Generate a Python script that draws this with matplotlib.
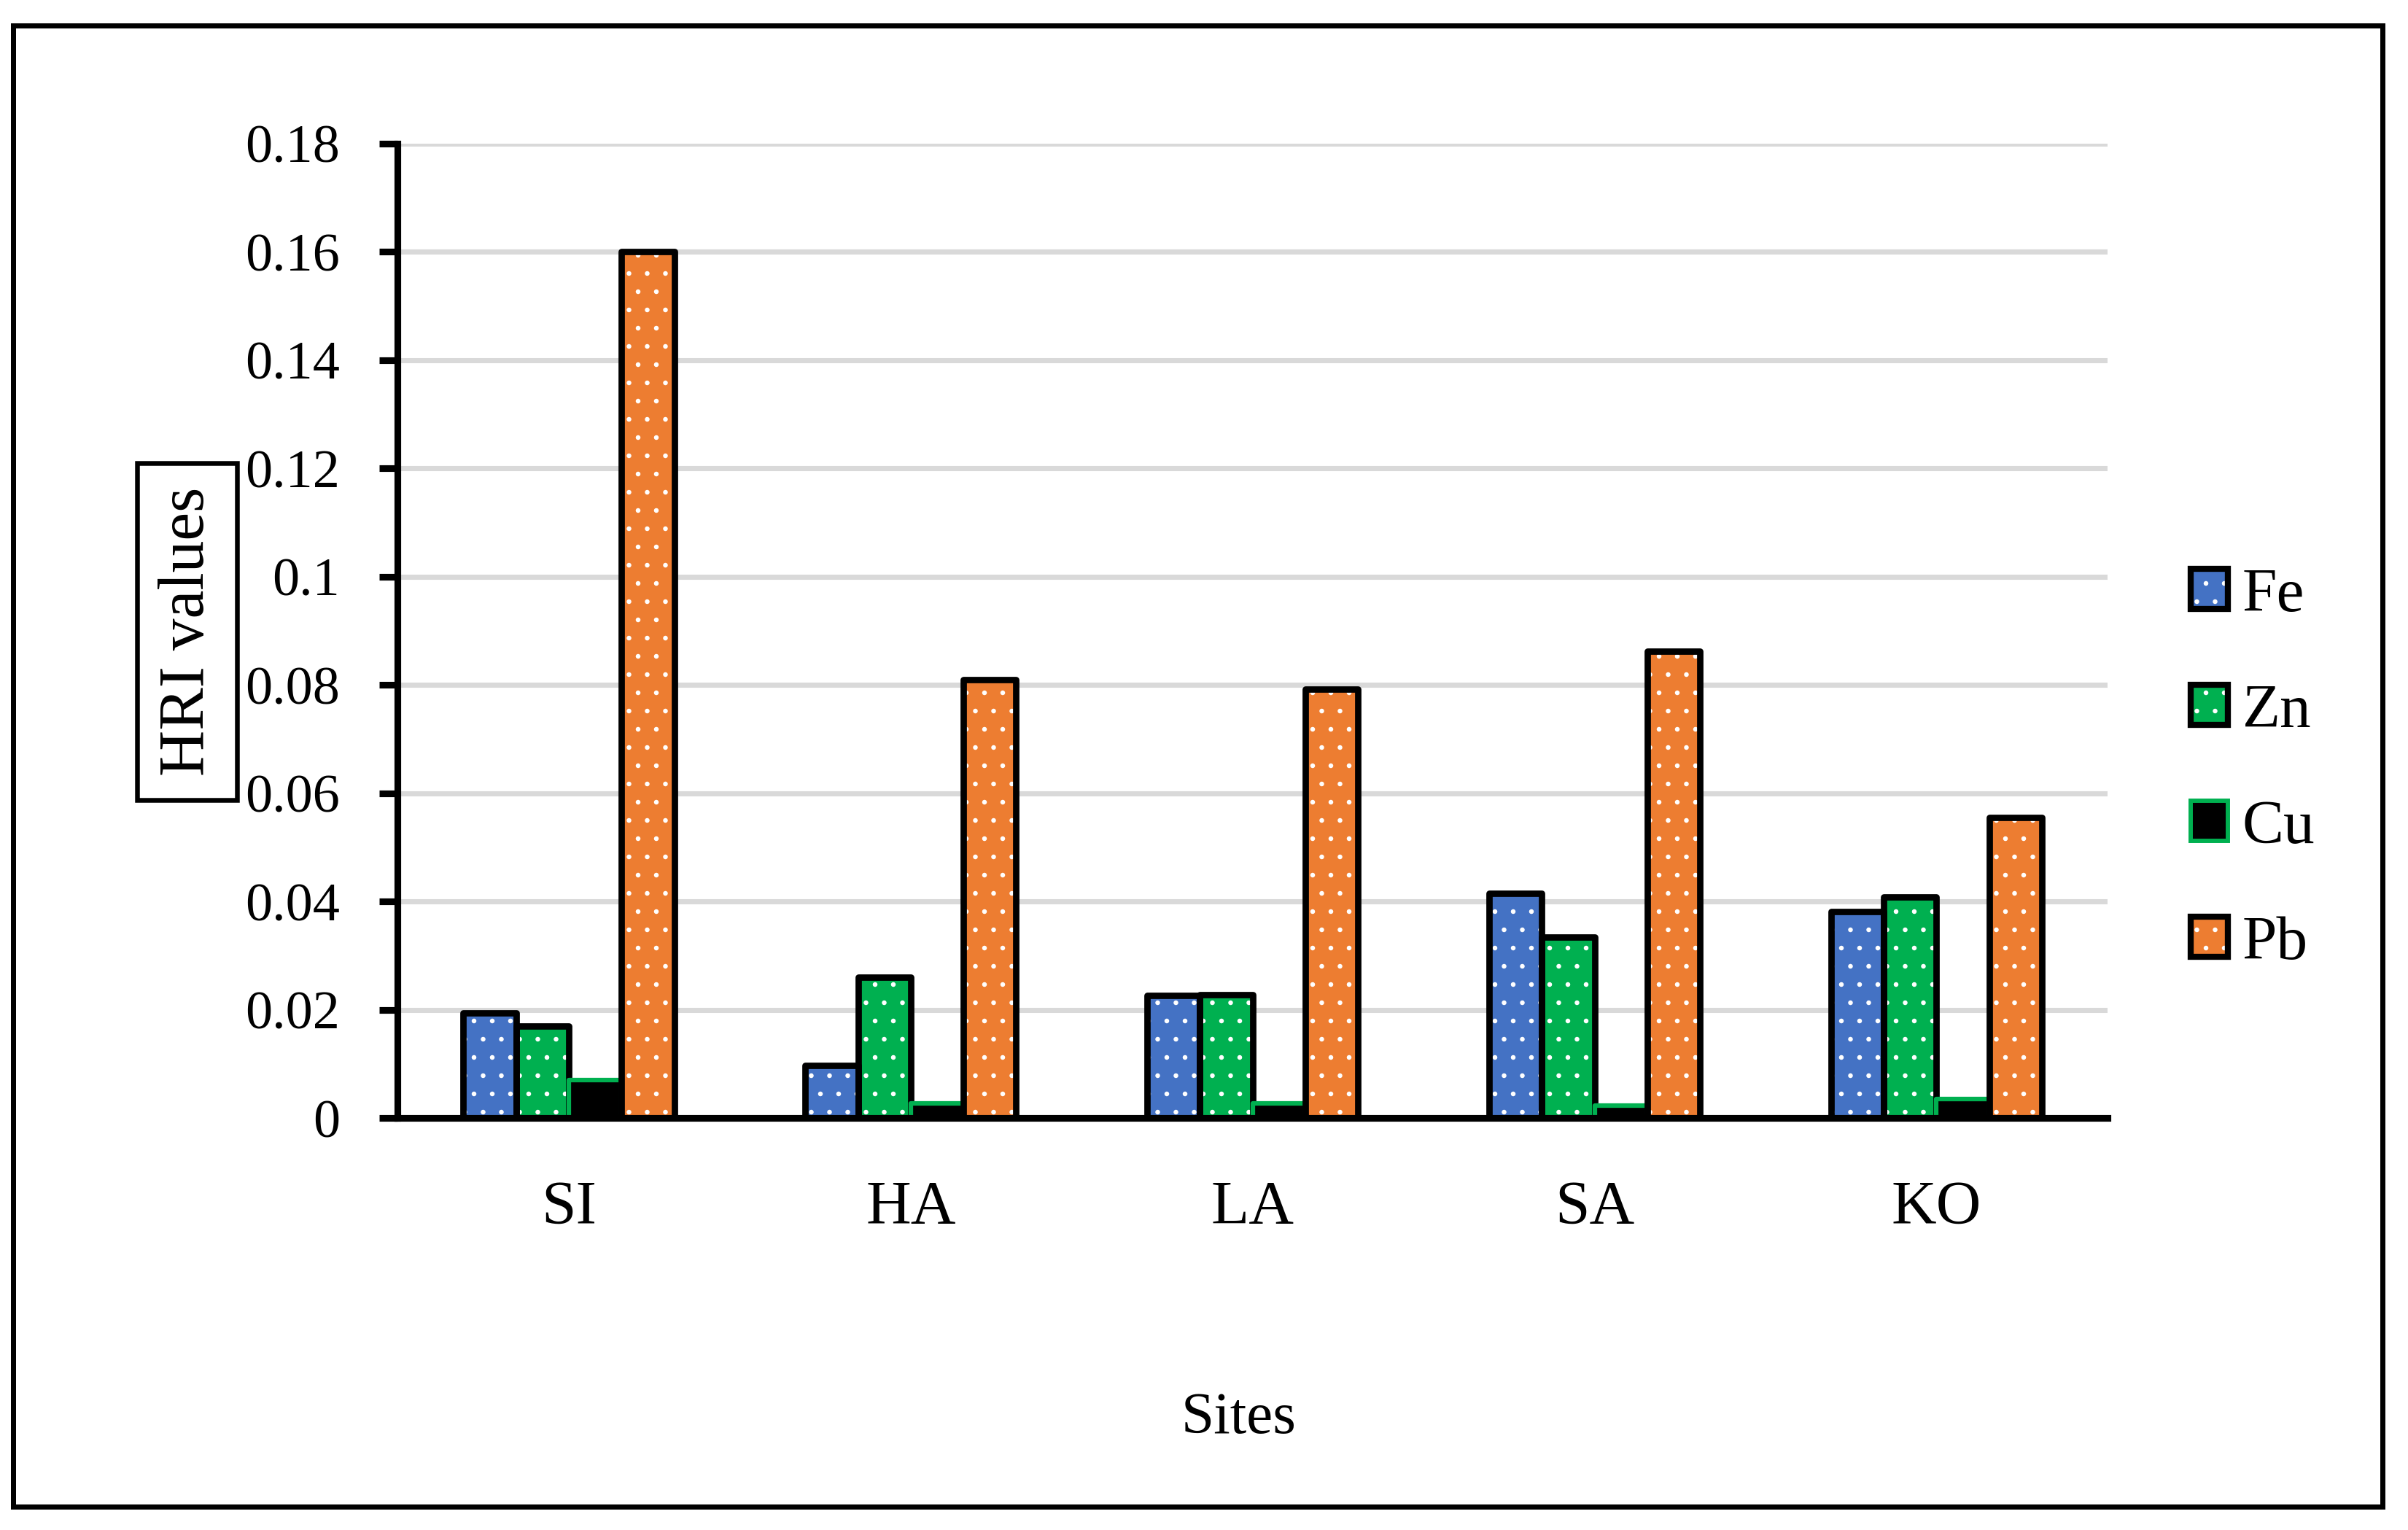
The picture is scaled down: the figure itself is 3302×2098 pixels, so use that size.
import matplotlib
matplotlib.use("Agg")
import matplotlib.pyplot as plt
from matplotlib.patches import Patch, Rectangle
import numpy as np

# data
sites = ["SI", "HA", "LA", "SA", "KO"]
metals = ["Fe", "Zn", "Cu", "Pb"]
fe = [0.0195, 0.0098, 0.0227, 0.0415, 0.0382]
zn = [0.0170, 0.0261, 0.0228, 0.0335, 0.0409]
cu = [0.0070, 0.0027, 0.0028, 0.0023, 0.0035]
pb = [0.1600, 0.0810, 0.0792, 0.0863, 0.0556]
yticks = [0, 0.02, 0.04, 0.06, 0.08, 0.1, 0.12, 0.14, 0.16, 0.18]
ytick_labels = ["0", "0.02", "0.04", "0.06", "0.08", "0.1", "0.12", "0.14", "0.16", "0.18"]

fills = ["#4472C4", "#00B050", "#000000", "#ED7D31"]
edges = ["#000000", "#000000", "#00B050", "#000000"]
edge_lw = [2.1, 2.1, 1.5, 2.1]
hatches = ["..", "..", None, ".."]

plt.rcParams["font.family"] = ["Liberation Serif", "DejaVu Serif"]
plt.rcParams["hatch.linewidth"] = 0.35

fig = plt.figure(figsize=(3302 / 300, 2098 / 300), dpi=300)
ax = fig.add_axes([0.1652, 0.2691, 0.8752 - 0.1652, 0.9061 - 0.2691])

x = np.arange(len(sites))
w = 0.1542
handles = []
for i, vals in enumerate([fe, zn, cu, pb]):
    pos = x + (i - 1.5) * w
    if hatches[i]:
        ax.bar(pos, vals, w, color=fills[i], edgecolor="white", hatch=hatches[i], lw=0, zorder=2)
        h1 = Patch(facecolor=fills[i], edgecolor="white", hatch=hatches[i], lw=0)
    else:
        ax.bar(pos, vals, w, color=fills[i], lw=0, zorder=2)
        h1 = Patch(facecolor=fills[i], lw=0)
    ax.bar(pos, vals, w, fill=False, edgecolor=edges[i], lw=edge_lw[i], joinstyle="round", zorder=2.1)
    h2 = Patch(fill=False, edgecolor=edges[i], lw=edge_lw[i] * 0.95, joinstyle="round")
    handles.append((h1, h2))

ax.set_xlim(-0.5, len(sites) - 0.5)
ax.set_ylim(0, 0.18)
ax.set_yticks(yticks)
ax.set_yticklabels(ytick_labels, fontsize=17.8)
ax.set_xticks(x)
ax.set_xticklabels(sites, fontsize=20.5)
ax.tick_params(axis="x", length=0, pad=20.5)
ax.tick_params(axis="y", length=6, width=2.2, pad=13, direction="out")

ax.set_axisbelow(True)
ax.yaxis.grid(True, color="#D9D9D9", lw=1.7)
for s in ["top", "right"]:
    ax.spines[s].set_visible(False)
for s in ["left", "bottom"]:
    ax.spines[s].set_linewidth(2.2)
    ax.spines[s].set_zorder(3)

leg = fig.legend(handles, metals, loc="center left", bbox_to_anchor=(0.9097, 0.4967),
                 frameon=False, fontsize=20.5, handlelength=0.6, handleheight=0.61,
                 handletextpad=0.23, labelspacing=0.96, borderpad=0, borderaxespad=0)

fig.text(1699 / 3302, 1 - 1965 / 2098, "Sites", fontsize=19.5, ha="center", va="baseline")
fig.text(258 / 3302, 1 - 866 / 2098, "HRI values", fontsize=21, rotation=90,
         ha="center", va="center")
fig.patches.append(Rectangle((0.05694, 0.4771), 0.04149, 0.2202, transform=fig.transFigure,
                             fill=False, edgecolor="black", lw=1.56))
# outer frame
fig.patches.append(Rectangle((0.0053, 0.01549), 0.98425, 0.9676, transform=fig.transFigure,
                             fill=False, edgecolor="black", lw=1.68))

fig.savefig("out.png", dpi=300)
